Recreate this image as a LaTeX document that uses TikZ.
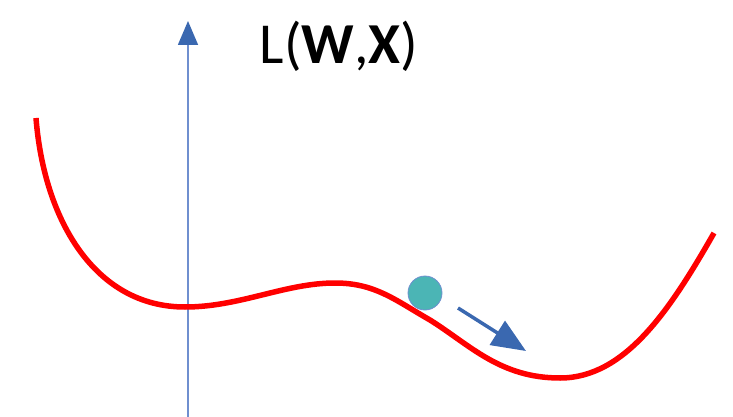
\documentclass[tikz,border=0pt]{standalone}
\usepackage{fontspec}
\setmainfont{Carlito}
\usetikzlibrary{arrows.meta}
\definecolor{axisblue}{HTML}{6F8FCF}
\definecolor{tipblue}{HTML}{3A68B0}
\definecolor{ballteal}{HTML}{4BB5B5}

\begin{document}
\begin{tikzpicture}[x=1pt,y=-1pt]
  \useasboundingbox (0,0) rectangle (733,417);
  % axis and its label
  \coordinate (axbot) at (188,417);
  \coordinate (axtop) at (188,21);
  \draw[axisblue,line width=1.6pt,-{Triangle[length=24pt,width=20pt,fill=tipblue,color=tipblue]}] (axbot) -- (axtop);
  \node[font=\fontsize{58}{62}\selectfont,anchor=center] (loss) at (339,46) {L(\textbf{W},\textbf{X})};
  % loss curve
  \draw[red,line width=5.5pt] (36,118) .. controls (44,220) and (95,307) .. (185,307)
    .. controls (240,307) and (285,283) .. (335,283)
    .. controls (375,283) and (395,300) .. (430,320)
    .. controls (470,345) and (500,378) .. (560,378)
    .. controls (625,378) and (670,310) .. (714,233);
  % ball and step direction
  \node[circle,fill=ballteal,draw=axisblue,line width=0.8pt,minimum size=34pt,inner sep=0pt] (ball) at (425,293) {};
  \coordinate (from) at (458,308);
  \coordinate (to) at (526,351);
  \draw[tipblue,line width=3.5pt,-{Triangle[length=34pt,width=28pt]}] (from) -- (to);
\end{tikzpicture}
\end{document}
